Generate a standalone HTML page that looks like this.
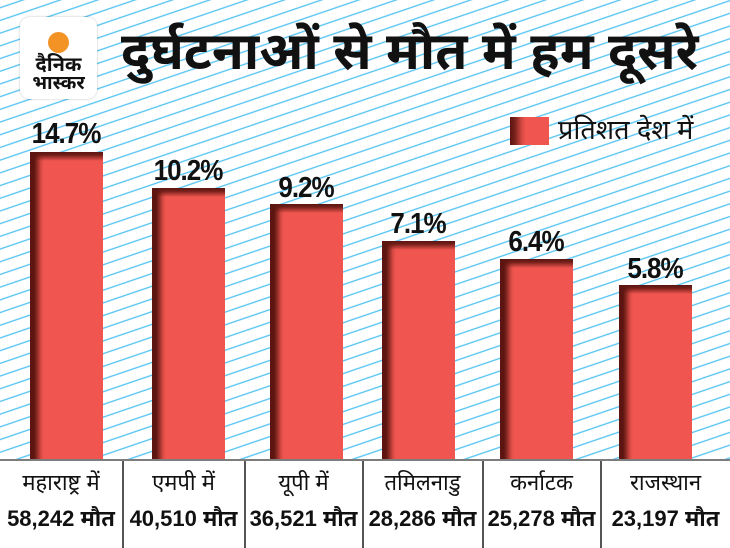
<!DOCTYPE html>
<html>
<head>
<meta charset="utf-8">
<style>
  html,body{margin:0;padding:0;}
  body{width:730px;height:548px;position:relative;overflow:hidden;background:#fff;
    font-family:"Liberation Sans","Noto Sans Devanagari","Lohit Devanagari","FreeSans",sans-serif;color:#111;}
  .abs{position:absolute;}
  .bar{position:absolute;width:73px;bottom:88px;
    background:
      linear-gradient(to bottom, rgba(92,21,16,1) 0px, rgba(92,21,16,0.85) 3px, rgba(240,84,79,0) 9px),
      linear-gradient(to right, #5c1510 0px, #5c1510 4px, #8a2a24 7px, #d84a44 11px, #f0554f 14px, #f0554f 100%);}
  .val{position:absolute;width:120px;text-align:center;font-weight:bold;font-size:26px;line-height:26px;letter-spacing:-1px;color:#111;transform:scaleY(1.1);transform-origin:50% 85%;}
  .l1{position:absolute;text-align:center;font-size:22px;line-height:24px;top:471px;color:#111;}
  .l2{position:absolute;text-align:center;font-size:22px;line-height:26px;top:506px;font-weight:bold;color:#111;}
  .div{position:absolute;top:461px;width:1.5px;height:87px;background:#555;}
</style>
</head>
<body>
<svg class="abs" style="left:0;top:0" width="730" height="460" xmlns="http://www.w3.org/2000/svg">
  <defs>
    <pattern id="st" width="20" height="12.7" patternUnits="userSpaceOnUse" patternTransform="skewY(-18.8)">
      <rect x="0" y="7.1" width="20" height="1.4" fill="#55c3f2"/>
    </pattern>
  </defs>
  <rect x="0" y="0" width="730" height="460" fill="#fff"/>
  <rect x="0" y="0" width="730" height="460" fill="url(#st)"/>
</svg>

<!-- logo -->
<div class="abs" style="left:20px;top:17px;width:77px;height:82px;background:#fff;border-radius:10px;box-shadow:0 0 2px rgba(0,0,0,0.25);"></div>
<div class="abs" style="left:48px;top:32px;width:21px;height:21px;border-radius:50%;background:#f39325;"></div>
<div class="abs" style="left:20px;top:54px;width:77px;text-align:center;font-weight:bold;font-size:20px;line-height:22px;color:#111;">दैनिक</div>
<div class="abs" style="left:20px;top:73px;width:77px;text-align:center;font-weight:bold;font-size:19px;line-height:22px;color:#111;">भास्कर</div>

<!-- title -->
<div class="abs" style="left:121px;top:16px;width:610px;font-weight:bold;font-size:52px;line-height:72px;white-space:nowrap;color:#111;">दुर्घटनाओं से मौत में हम दूसरे</div>

<!-- legend -->
<div class="abs" style="left:510px;top:117px;width:39px;height:28px;background:linear-gradient(to right,#5c1510 0px,#7a221c 5px,#d84a44 12px,#f0554f 16px);"></div>
<div class="abs" style="left:558px;top:114px;font-size:27px;line-height:32px;white-space:nowrap;color:#111;">प्रतिशत देश में</div>

<!-- bars -->
<div class="bar" style="left:30px;top:152px;"></div>
<div class="bar" style="left:152px;top:188px;"></div>
<div class="bar" style="left:270px;top:204px;"></div>
<div class="bar" style="left:382px;top:241px;"></div>
<div class="bar" style="left:500px;top:259px;"></div>
<div class="bar" style="left:619px;top:285px;"></div>

<!-- values -->
<div class="val" style="left:6px;top:121px;">14.7%</div>
<div class="val" style="left:128px;top:158px;">10.2%</div>
<div class="val" style="left:246px;top:175px;">9.2%</div>
<div class="val" style="left:358px;top:211px;">7.1%</div>
<div class="val" style="left:476px;top:229px;">6.4%</div>
<div class="val" style="left:595px;top:256px;">5.8%</div>

<!-- baseline -->
<div class="abs" style="left:0;top:459px;width:730px;height:2px;background:#7d7d7d;"></div>

<!-- dividers -->
<div class="div" style="left:122px;"></div>
<div class="div" style="left:244px;"></div>
<div class="div" style="left:362px;"></div>
<div class="div" style="left:482px;"></div>
<div class="div" style="left:600px;"></div>

<!-- category labels -->
<div class="l1" style="left:0;width:122px;">महाराष्ट्र में</div>
<div class="l2" style="left:0;width:122px;">58,242 मौत</div>
<div class="l1" style="left:123px;width:121px;">एमपी में</div>
<div class="l2" style="left:123px;width:121px;">40,510 मौत</div>
<div class="l1" style="left:245px;width:117px;">यूपी में</div>
<div class="l2" style="left:245px;width:117px;">36,521 मौत</div>
<div class="l1" style="left:363px;width:119px;">तमिलनाडु</div>
<div class="l2" style="left:363px;width:119px;">28,286 मौत</div>
<div class="l1" style="left:483px;width:117px;">कर्नाटक</div>
<div class="l2" style="left:483px;width:117px;">25,278 मौत</div>
<div class="l1" style="left:601px;width:129px;">राजस्थान</div>
<div class="l2" style="left:601px;width:129px;">23,197 मौत</div>
</body>
</html>
